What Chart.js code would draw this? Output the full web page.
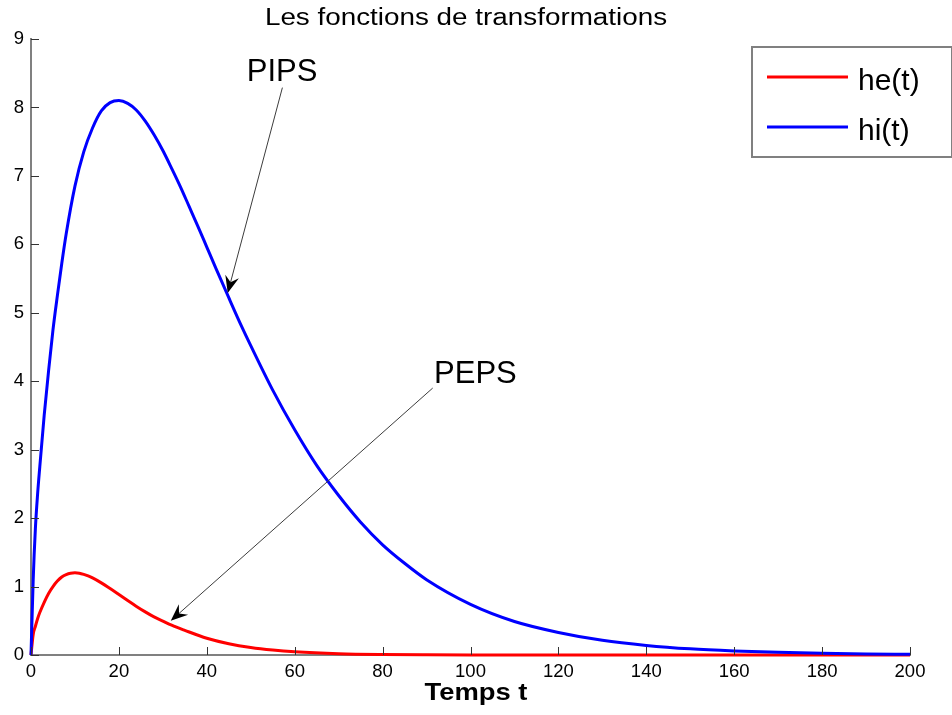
<!DOCTYPE html>
<html>
<head>
<meta charset="utf-8">
<title>Les fonctions de transformations</title>
<script src="https://cdn.jsdelivr.net/npm/chart.js@4.4.1/dist/chart.umd.min.js"></script>
<style>
  html,
  body {
    margin: 0;
    padding: 0;
    background: #fff;
  }
</style>
</head>
<body>
<canvas id="chart" width="952" height="715"></canvas>
<script>
/*=========================================================
DATA
=========================================================*/

const tHe = [
  0, 0.5, 1, 1.5, 2, 3, 4, 5, 6, 7, 8, 9, 10, 11, 12, 13, 14, 16, 18, 20, 22,
  24, 26, 28, 30, 32, 35, 40, 45, 50, 55, 60, 70, 80, 90, 100, 120, 140, 160,
  180, 200,
];

const heValues = [
  0, 0.3, 0.42, 0.53, 0.62, 0.77, 0.9, 1.0, 1.08, 1.14, 1.175, 1.195, 1.2,
  1.195, 1.178, 1.155, 1.126, 1.054, 0.97, 0.883, 0.795, 0.71, 0.63, 0.556,
  0.495, 0.435, 0.36, 0.245, 0.165, 0.11, 0.073, 0.048, 0.02, 0.008, 0.003,
  0.001, 0, 0, 0, 0, 0,
];

const tHi = [
  0, 0.5, 1, 1.5, 2, 3, 4, 5, 6, 7, 8, 10, 12, 14, 16, 18, 20, 22, 24, 26, 28,
  30, 32, 34, 36, 38, 40, 42, 45, 48, 50, 55, 60, 65, 70, 75, 80, 85, 90, 100,
  110, 120, 130, 140, 150, 160, 170, 180, 190, 200,
];

const hiValues = [
  0, 1.1, 1.85, 2.35, 2.75, 3.5, 4.15, 4.75, 5.25, 5.72, 6.15, 6.85, 7.35,
  7.7, 7.95, 8.07, 8.1, 8.06, 7.96, 7.8, 7.6, 7.37, 7.11, 6.84, 6.55, 6.26,
  5.96, 5.66, 5.22, 4.79, 4.52, 3.87, 3.29, 2.77, 2.33, 1.94, 1.61, 1.34, 1.1,
  0.74, 0.49, 0.33, 0.215, 0.14, 0.09, 0.06, 0.04, 0.025, 0.016, 0.01,
];

const seriesLabels = ["he(t)", "hi(t)"];

const xTickStep = 20;
const yTickStep = 1;

/*=========================================================
ANNOTATIONS (data units)
=========================================================*/

const notes = [
  { text: "PIPS", tx: 49.1, ty: 8.38, fx: 57.2, fy: 8.29, ax: 44.76, ay: 5.29 },
  { text: "PEPS", tx: 91.7, ty: 3.97, fx: 91.4, fy: 3.9, ax: 31.8, ay: 0.5 },
];

function toPoints(xs, ys) {
  return xs.map((x, i) => ({ x: x, y: ys[i] }));
}

const FONT = "'Liberation Sans', Arial, sans-serif";

/*=========================================================
DRAW HELPERS
=========================================================*/

function stretchedText(ctx, text, cx, y, font, sx) {
  ctx.save();
  ctx.translate(cx, y);
  ctx.scale(sx, 1);
  ctx.font = font;
  ctx.textAlign = "center";
  ctx.textBaseline = "alphabetic";
  ctx.fillStyle = "#000";
  ctx.fillText(text, 0, 0);
  ctx.restore();
}

function drawArrow(ctx, x0, y0, x1, y1) {
  const ang = Math.atan2(y1 - y0, x1 - x0);
  const len = 17;
  const half = 7;
  const cos = Math.cos(ang);
  const sin = Math.sin(ang);

  const bx = x1 - cos * len;
  const by = y1 - sin * len;
  const ix = x1 - cos * len * 0.65;
  const iy = y1 - sin * len * 0.65;

  ctx.save();
  ctx.strokeStyle = "#3c3c3c";
  ctx.lineWidth = 1;
  ctx.beginPath();
  ctx.moveTo(x0, y0);
  ctx.lineTo(ix, iy);
  ctx.stroke();

  ctx.fillStyle = "#000";
  ctx.beginPath();
  ctx.moveTo(x1, y1);
  ctx.lineTo(bx - sin * half, by + cos * half);
  ctx.lineTo(ix, iy);
  ctx.lineTo(bx + sin * half, by - cos * half);
  ctx.closePath();
  ctx.fill();
  ctx.restore();
}

/*=========================================================
INWARD TICKS
=========================================================*/

const innerTicks = {
  id: "innerTicks",

  afterDatasetsDraw(chart) {
    const ctx = chart.ctx;
    const x = chart.scales.x;
    const y = chart.scales.y;
    const area = chart.chartArea;

    ctx.save();
    ctx.strokeStyle = "#333";
    ctx.lineWidth = 1;
    ctx.beginPath();

    x.ticks.forEach((t) => {
      const px = Math.round(x.getPixelForValue(t.value)) + 0.5;
      ctx.moveTo(px, area.bottom);
      ctx.lineTo(px, area.bottom - 8);
    });

    y.ticks.forEach((t) => {
      const py = Math.round(y.getPixelForValue(t.value)) + 0.5;
      ctx.moveTo(area.left, py);
      ctx.lineTo(area.left + 8, py);
    });

    ctx.stroke();
    ctx.restore();
  },
};

/*=========================================================
TITLE • LABELS • ARROWS • LEGEND
=========================================================*/

const overlay = {
  id: "overlay",

  afterDraw(chart) {
    const ctx = chart.ctx;
    const x = chart.scales.x;
    const y = chart.scales.y;

    stretchedText(ctx, "Les fonctions de transformations", 466, 25, "23px " + FONT, 1.21);

    stretchedText(ctx, "Temps t", 476, 700, "bold 23px " + FONT, 1.19);

    notes.forEach((n) => {
      ctx.save();
      ctx.font = "31px " + FONT;
      ctx.fillStyle = "#000";
      ctx.textAlign = "left";
      ctx.textBaseline = "alphabetic";
      ctx.fillText(n.text, x.getPixelForValue(n.tx), y.getPixelForValue(n.ty));
      ctx.restore();

      drawArrow(
        ctx,
        x.getPixelForValue(n.fx),
        y.getPixelForValue(n.fy),
        x.getPixelForValue(n.ax),
        y.getPixelForValue(n.ay),
      );
    });

    // legend box, top right, overlapping the axes
    const bx = 752;
    const by = 47;

    ctx.save();
    ctx.fillStyle = "#fff";
    ctx.fillRect(bx, by, 200, 110);
    ctx.strokeStyle = "#808080";
    ctx.lineWidth = 2;
    ctx.strokeRect(bx, by, 200, 110);

    chart.data.datasets.forEach((ds, i) => {
      const ly = 77 + i * 50;

      ctx.strokeStyle = ds.borderColor;
      ctx.lineWidth = 3;
      ctx.beginPath();
      ctx.moveTo(767, ly);
      ctx.lineTo(848, ly);
      ctx.stroke();

      ctx.font = "30px " + FONT;
      ctx.fillStyle = "#000";
      ctx.textAlign = "left";
      ctx.textBaseline = "alphabetic";
      ctx.fillText(ds.label, 858, ly + 13);
    });

    ctx.restore();
  },
};

/*=========================================================
CHART
=========================================================*/

const axisFont = { family: FONT, size: 18.5 };

new Chart(document.getElementById("chart"), {
  type: "line",

  data: {
    datasets: [
      {
        label: seriesLabels[0],
        data: toPoints(tHe, heValues),
        borderColor: "#ff0000",
        borderWidth: 3,
        order: 1,
      },
      {
        label: seriesLabels[1],
        data: toPoints(tHi, hiValues),
        borderColor: "#0000ff",
        borderWidth: 3,
        order: 0,
      },
    ],
  },

  options: {
    responsive: false,
    animation: false,
    parsing: false,

    layout: {
      padding: { top: 39, right: 42, left: 0, bottom: 0 },
    },

    elements: {
      point: { radius: 0 },
      line: { cubicInterpolationMode: "monotone", fill: false },
    },

    datasets: {
      line: { clip: false },
    },

    plugins: {
      legend: { display: false },
      title: { display: false },
      tooltip: { enabled: false },
    },

    scales: {
      x: {
        type: "linear",
        min: 0,
        max: 200,
        ticks: {
          stepSize: xTickStep,
          autoSkip: false,
          maxRotation: 0,
          padding: 6,
          color: "#000",
          font: axisFont,
        },
        grid: { drawOnChartArea: false, drawTicks: false },
        border: { color: "#808080", width: 2 },
        afterFit: (s) => {
          s.height = 60;
        },
      },

      y: {
        type: "linear",
        min: 0,
        max: 9,
        ticks: {
          stepSize: yTickStep,
          autoSkip: false,
          padding: 7,
          color: "#000",
          font: axisFont,
        },
        grid: { drawOnChartArea: false, drawTicks: false },
        border: { color: "#808080", width: 2 },
        afterFit: (s) => {
          s.width = 31;
        },
      },
    },
  },

  plugins: [innerTicks, overlay],
});
</script>
</body>
</html>
